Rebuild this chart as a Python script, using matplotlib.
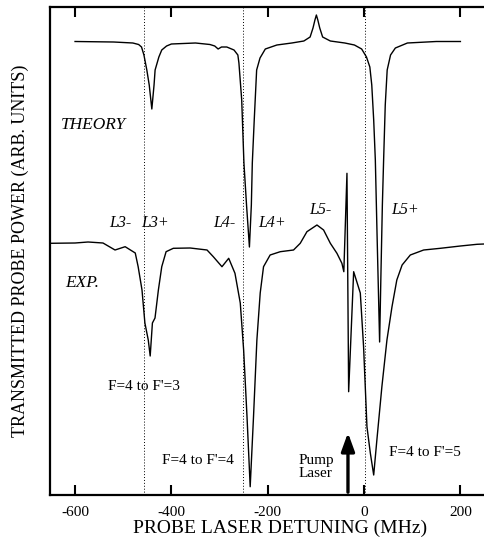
import matplotlib.pyplot as plt

# theory trace: detuning (MHz), transmitted power (arb. units)
theory_mhz = [-600, -520, -480, -468, -462, -457, -451, -446, -440.6, -436, -433.8, -426, -420, -410, -400,
              -350, -320, -310, -303, -296, -285, -270, -262, -259.8, -254, -249.4, -244, -238,
              -234, -232, -228, -226, -223, -216, -205, -181, -150, -125, -112, -106, -102, -99,
              -96, -92, -86, -70, -40, -20, -5, 5, 12, 16, 20, 23.4, 27, 30, 32.3, 35, 38, 40.6,
              44, 48, 55, 65, 90, 150, 200]
theory_pwr = [453.5, 453, 452, 450.5, 448, 440, 425, 410, 386, 410, 425, 438, 445, 449, 451,
              452, 450.5, 449, 446, 448, 448, 445, 440, 432, 395, 332, 290, 248,
              290, 332, 375, 395, 425, 437, 446, 450, 452, 454, 458, 467, 475, 480,
              475, 467, 458, 454, 452, 450, 446, 438, 428, 410, 375, 335, 260, 200, 153, 220, 290, 335,
              390, 425, 440, 447, 452, 453.5, 453.5]

# experimental trace
exp_mhz = [-652, -600, -573, -542, -517, -496, -475, -469, -461, -455, -448, -444, -439.4, -434,
           -427, -420, -411, -396, -361, -326, -313, -295, -281, -268, -257, -250, -243, -236.4,
           -229.5, -222.5, -215.6, -208.7, -195, -174, -146.4, -132.5, -118.6, -97.8, -84, -70,
           -56.3, -46, -42, -35.5, -32, -21.6, -7.8, -1, 6, 13, 20, 26.6, 37, 47.5, 58, 68, 79,
           96, 123.7, 158.4, 200, 234.6, 249]
exp_pwr = [251.7, 252, 253, 252, 245, 248.3, 242, 228.3, 205, 172, 155, 139, 172, 177,
           205, 228.3, 243.3, 246.7, 247, 245, 238.3, 228.3, 236.7, 221.7, 192, 145, 78.3, 8.3,
           78.3, 155, 202, 228.3, 240, 243.3, 245, 251.7, 263.3, 270, 265, 251.7,
           241.7, 231.7, 223.3, 321.7, 103.3, 223.3, 202, 148.3, 68.3, 42, 20, 55, 108.3, 155, 188.3, 215, 230,
           240, 245, 246.7, 249, 250.7, 251]

# F=4 -> F'=3,4,5 resonance markers and pump position
resonances = [-456, -252, 1]
pump_mhz = -33.4

plt.rcParams['font.family'] = ['Liberation Serif', 'DejaVu Serif']
plt.rcParams['axes.unicode_minus'] = False

fig = plt.figure(figsize=(4.84, 5.48), dpi=100)
ax = fig.add_axes([50 / 484, 53 / 548, 434 / 484, 488 / 548])

ax.plot(theory_mhz, theory_pwr, color='black', lw=1.0)
ax.plot(exp_mhz, exp_pwr, color='black', lw=1.0)
for r in resonances:
    ax.axvline(r, color='black', ls=(0, (1, 2)), lw=0.7)

ax.annotate('', xy=(pump_mhz, 65), xytext=(pump_mhz, 0),
            arrowprops=dict(arrowstyle='-|>,head_length=1.1,head_width=0.4', color='black', lw=2.4))

ax.set_xlim(-652, 249)
ax.set_ylim(0, 488)
ax.set_xticks([-600, -400, -200, 0, 200])
ax.set_yticks([])
ax.tick_params(axis='x', direction='in', top=True, length=7, width=1.5, labelsize=11, pad=8)
for s in ['left', 'bottom', 'top']:
    ax.spines[s].set_linewidth(1.6)
ax.spines['right'].set_visible(False)

ax.set_xlabel('PROBE LASER DETUNING (MHz)', fontsize=14)
ax.xaxis.set_label_coords(0.531, -0.05)
ax.set_ylabel('TRANSMITTED PROBE POWER (ARB. UNITS)', fontsize=13, labelpad=15)

it = dict(style='italic', fontsize=11.5, ha='center', va='center')
ax.text(-561, 370, 'THEORY', **dict(it, fontsize=12.5))
ax.text(-586, 212, 'EXP.', **dict(it, fontsize=12.5))
ax.text(-505, 272, 'L3-', **it)
ax.text(-433, 272, 'L3+', **it)
ax.text(-291, 272, 'L4-', **it)
ax.text(-191, 272, 'L4+', **it)
ax.text(-90, 285, 'L5-', **it)
ax.text(85, 285, 'L5+', **it)

nt = dict(fontsize=11, ha='center', va='center')
ax.text(-456, 108, "F=4 to F'=3", **nt)
ax.text(-344, 35, "F=4 to F'=4", **nt)
ax.text(127, 43, "F=4 to F'=5", **nt)
ax.text(-137, 28, 'Pump\nLaser', linespacing=1.0, fontsize=11, ha='left', va='center')

fig.savefig('out.png', dpi=100)
